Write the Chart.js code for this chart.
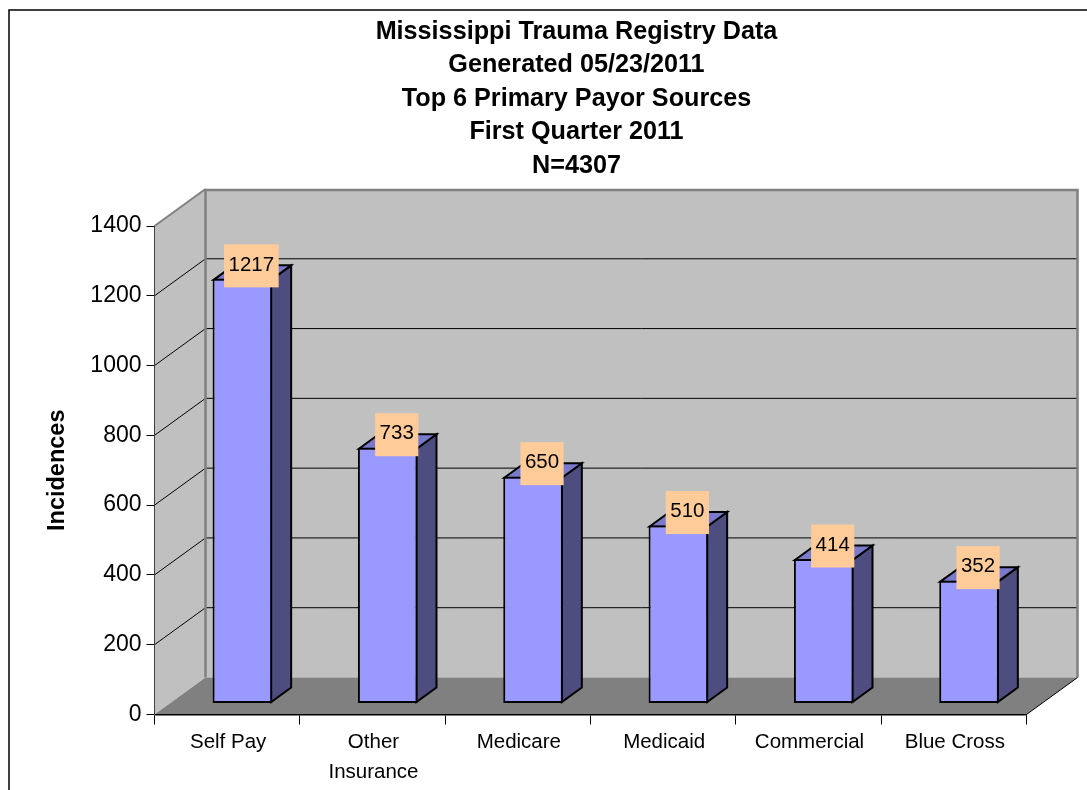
<!DOCTYPE html>
<html>
<head>
<meta charset="utf-8">
<title>Mississippi Trauma Registry Data</title>
<script src="https://cdn.jsdelivr.net/npm/chart.js@4"></script>
<style>
  html, body { margin: 0; padding: 0; background: #fff; overflow: hidden; width: 1087px; height: 790px; }
  canvas { display: block; }
</style>
</head>
<body>
<canvas id="chart" width="1153" height="850"></canvas>
<script>
const titleLines = [
  'Mississippi Trauma Registry Data',
  'Generated 05/23/2011',
  'Top 6 Primary Payor Sources',
  'First Quarter 2011',
  'N=4307'
];
const categories = ['Self Pay', ['Other', 'Insurance'], 'Medicare', 'Medicaid', 'Commercial', 'Blue Cross'];
const incidences = [1217, 733, 650, 510, 414, 352];

const FONT = '"Liberation Sans", Arial, sans-serif';

// fake 3D: how far the back wall and the bars sit behind the front plane
const WALL_DX = 51, WALL_DY = -37;
const BAR_DX = 15.2, BAR_DY = -11;
const SIDE_DX = 20, SIDE_DY = -14.5;

const fake3d = {
  id: 'fake3d',
  beforeDraw(chart) {
    const { ctx, chartArea: a, scales: { y } } = chart;
    ctx.save();

    // outer frame, runs off the right and bottom of the window
    ctx.strokeStyle = '#000';
    ctx.lineWidth = 1.5;
    ctx.strokeRect(9, 10, 1300, 1000);

    // left wall
    ctx.fillStyle = '#c0c0c0';
    ctx.beginPath();
    ctx.moveTo(a.left, a.top);
    ctx.lineTo(a.left + WALL_DX, a.top + WALL_DY);
    ctx.lineTo(a.left + WALL_DX, a.bottom + WALL_DY);
    ctx.lineTo(a.left, a.bottom);
    ctx.closePath();
    ctx.fill();

    // back wall
    ctx.fillRect(a.left + WALL_DX, a.top + WALL_DY, a.right - a.left, a.bottom - a.top);

    // gridlines run across the back wall and down the left wall
    ctx.strokeStyle = '#000';
    ctx.lineWidth = 1;
    y.ticks.forEach(t => {
      if (t.value === 0 || t.value === y.max) return;
      const py = y.getPixelForValue(t.value);
      ctx.beginPath();
      ctx.moveTo(a.left, py);
      ctx.lineTo(a.left + WALL_DX, py + WALL_DY);
      ctx.lineTo(a.right + WALL_DX, py + WALL_DY);
      ctx.stroke();
    });

    // floor
    ctx.fillStyle = '#808080';
    ctx.beginPath();
    ctx.moveTo(a.left, a.bottom);
    ctx.lineTo(a.left + WALL_DX, a.bottom + WALL_DY);
    ctx.lineTo(a.right + WALL_DX, a.bottom + WALL_DY);
    ctx.lineTo(a.right, a.bottom);
    ctx.closePath();
    ctx.fill();

    // wall edges
    ctx.strokeStyle = '#808080';
    ctx.lineWidth = 2.5;
    ctx.beginPath();
    ctx.moveTo(a.left + WALL_DX, a.bottom + WALL_DY);
    ctx.lineTo(a.left + WALL_DX, a.top + WALL_DY + 1);
    ctx.lineTo(a.right + WALL_DX, a.top + WALL_DY + 1);
    ctx.lineTo(a.right + WALL_DX, a.bottom + WALL_DY);
    ctx.stroke();
    ctx.lineWidth = 2;
    ctx.beginPath();
    ctx.moveTo(a.left, a.top);
    ctx.lineTo(a.left + WALL_DX, a.top + WALL_DY);
    ctx.stroke();

    ctx.strokeStyle = '#000';
    ctx.lineWidth = 1;
    ctx.beginPath();
    ctx.moveTo(a.right, a.bottom);
    ctx.lineTo(a.right + WALL_DX, a.bottom + WALL_DY);
    ctx.stroke();
    ctx.restore();
  },
  beforeDatasetDraw(chart, args) {
    const { ctx } = chart;
    ctx.save();
    ctx.translate(BAR_DX, BAR_DY);
    ctx.lineWidth = 2;
    ctx.strokeStyle = '#000';
    ctx.lineJoin = 'miter';
    chart.getDatasetMeta(args.index).data.forEach(bar => {
      const l = bar.x - bar.width / 2 + 1, r = bar.x + bar.width / 2 - 1;
      const top = bar.y + 1, base = bar.base - 1;

      ctx.fillStyle = '#4d4d80';
      ctx.beginPath();
      ctx.moveTo(r, top);
      ctx.lineTo(r + SIDE_DX, top + SIDE_DY);
      ctx.lineTo(r + SIDE_DX, base + SIDE_DY);
      ctx.lineTo(r, base);
      ctx.closePath();
      ctx.fill();
      ctx.stroke();

      ctx.fillStyle = '#7a7acc';
      ctx.beginPath();
      ctx.moveTo(l, top);
      ctx.lineTo(l + SIDE_DX, top + SIDE_DY);
      ctx.lineTo(r + SIDE_DX, top + SIDE_DY);
      ctx.lineTo(r, top);
      ctx.closePath();
      ctx.fill();
      ctx.stroke();
    });
  },
  afterDatasetDraw(chart) {
    chart.ctx.restore();
  },
  afterDatasetsDraw(chart) {
    const { ctx } = chart;
    ctx.save();
    ctx.font = '20.5px ' + FONT;
    ctx.textAlign = 'center';
    ctx.textBaseline = 'middle';
    chart.getDatasetMeta(0).data.forEach((bar, i) => {
      const text = String(incidences[i]);
      const w = ctx.measureText(text).width + 9;
      const cx = bar.x + BAR_DX + 9;
      const cy = bar.y + BAR_DY - 13;
      ctx.fillStyle = '#ffcc99';
      ctx.fillRect(cx - w / 2, cy - 21.5, w, 43);
      ctx.fillStyle = '#000';
      ctx.fillText(text, cx, cy - 1);
    });
    ctx.restore();
  }
};

new Chart(document.getElementById('chart'), {
  type: 'bar',
  data: {
    labels: categories,
    datasets: [{
      label: 'Incidences',
      data: incidences,
      backgroundColor: '#9999ff',
      borderColor: '#000',
      borderWidth: 2,
      borderSkipped: false,
      barPercentage: 0.41,
      categoryPercentage: 1,
      clip: false
    }]
  },
  options: {
    responsive: false,
    animation: false,
    plugins: {
      legend: { display: false },
      tooltip: { enabled: false },
      title: {
        display: true,
        text: titleLines,
        color: '#000',
        font: { family: FONT, size: 25.2, weight: 'bold', lineHeight: 33.5 / 25.2 },
        padding: { top: 15, bottom: 43.5 }
      }
    },
    scales: {
      x: {
        offset: true,
        afterFit(scale) { scale.height = 135.5; },
        grid: { drawOnChartArea: false, tickColor: '#000', tickLength: 10, offset: true },
        border: { color: '#000', width: 1.5 },
        ticks: {
          color: '#000',
          padding: 3,
          labelOffset: 1,
          maxRotation: 0,
          autoSkip: false,
          font: { family: FONT, size: 20.5, lineHeight: 1.45 }
        }
      },
      y: {
        min: 0,
        max: 1400,
        afterFit(scale) { scale.width = 154.5; },
        grid: { drawOnChartArea: false, tickColor: '#000', tickLength: 8 },
        border: { color: '#404040', width: 1 },
        ticks: {
          stepSize: 200,
          color: '#000',
          padding: 5,
          callback: value => String(value),
          font: { family: FONT, size: 23 }
        },
        title: {
          display: true,
          text: 'Incidences',
          color: '#000',
          font: { family: FONT, size: 23.5, weight: 'bold', lineHeight: 1.2 },
          padding: { top: 43, bottom: 0 }
        }
      },
      // empty axis, only holds the plot's right edge in so the title stays centred on the whole frame
      spacer: {
        position: 'right',
        afterFit(scale) { scale.width = 126.5; },
        grid: { display: false },
        border: { display: false },
        ticks: { display: false }
      }
    }
  },
  plugins: [fake3d]
});
</script>
</body>
</html>
